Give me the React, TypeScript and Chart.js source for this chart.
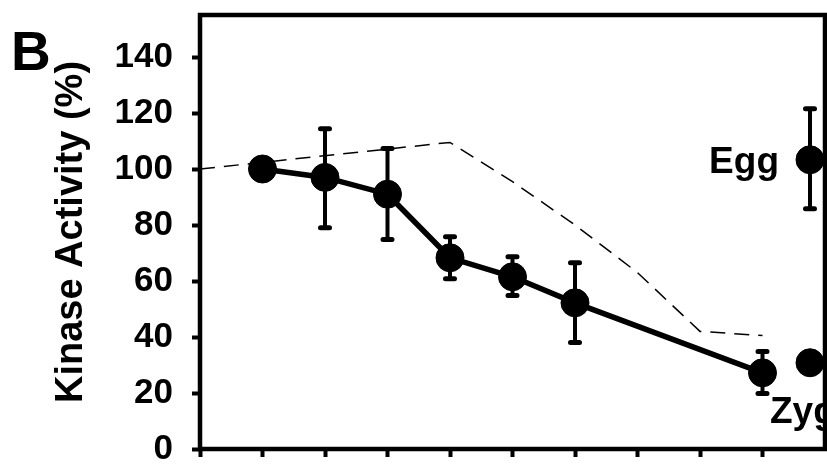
import React, { useEffect, useRef } from "react";
import { Chart, registerables } from "chart.js";

Chart.register(...registerables);

// Data
const mainX = [1, 2, 3, 4, 5, 6, 9];
const mainY = [100, 97, 91, 68.3, 61.5, 52.2, 27.2];
const mainUpper = [null, 114.4, 107.3, 75.8, 68.7, 66.5, 34.8];
const mainLower = [null, 79, 74.8, 60.8, 54.8, 38, 19.8];

const dashX = [0, 4, 5, 6, 7, 8, 9];
const dashY = [100, 109.5, 95.5, 80, 63, 42, 40.5];

const eggX = [9.76];
const eggY = [103.3];
const eggUpper = [121.5];
const eggLower = [85.8];

const zygX = [9.76];
const zygY = [30.8];

const yTicks = [0, 20, 40, 60, 80, 100, 120, 140];
const xTicks = [0, 1, 2, 3, 4, 5, 6, 7, 8, 9];

const panelLabel = "B";
const yTitle = "Kinase Activity (%)";
const eggLabel = "Egg";
const zygLabel = "Zyg";

const FONT = "'Liberation Sans', Arial, Helvetica, sans-serif";

const pts = (xs: number[], ys: number[]) => xs.map((x, i) => ({ x, y: ys[i] }));

const overlayPlugin = {
  id: "overlay",
  beforeDatasetsDraw(chart: any) {
    const ctx = chart.ctx;
    const xs = chart.scales.x;
    const ys = chart.scales.y;
    const bars = [
      { xv: mainX, up: mainUpper, lo: mainLower },
      { xv: eggX, up: eggUpper, lo: eggLower },
    ];
    ctx.save();
    const ca = chart.chartArea;
    ctx.beginPath();
    ctx.rect(ca.left, ca.top, ca.right - ca.left, ca.bottom - ca.top);
    ctx.clip();
    ctx.strokeStyle = "#000";
    bars.forEach((b) => {
      b.xv.forEach((xv, i) => {
        const u = b.up[i];
        const l = b.lo[i];
        if (u == null || l == null) return;
        const px = xs.getPixelForValue(xv);
        const pu = ys.getPixelForValue(u);
        const pl = ys.getPixelForValue(l);
        ctx.lineWidth = 4;
        ctx.lineCap = "butt";
        ctx.beginPath();
        ctx.moveTo(px, pu);
        ctx.lineTo(px, pl);
        ctx.stroke();
        ctx.lineWidth = 5;
        ctx.lineCap = "round";
        ctx.beginPath();
        ctx.moveTo(px - 4.5, pu);
        ctx.lineTo(px + 4.5, pu);
        ctx.moveTo(px - 4.5, pl);
        ctx.lineTo(px + 4.5, pl);
        ctx.stroke();
      });
    });
    ctx.restore();
  },
  afterDraw(chart: any) {
    const ctx = chart.ctx;
    const ca = chart.chartArea;
    const xs = chart.scales.x;
    const ys = chart.scales.y;
    ctx.save();
    // frame
    ctx.strokeStyle = "#000";
    ctx.lineWidth = 4.5;
    ctx.lineCap = "square";
    ctx.strokeRect(ca.left, ca.top, ca.right - ca.left, ca.bottom - ca.top);

    ctx.fillStyle = "#000";
    // panel letter
    ctx.font = `bold 55px ${FONT}`;
    ctx.textAlign = "left";
    ctx.textBaseline = "alphabetic";
    ctx.fillText(panelLabel, 11, 70);

    // y title
    ctx.save();
    ctx.translate(82, (ca.top + ca.bottom) / 2);
    ctx.rotate(-Math.PI / 2);
    ctx.font = `bold 38px ${FONT}`;
    ctx.textAlign = "center";
    ctx.textBaseline = "alphabetic";
    ctx.fillText(yTitle, 0, 0);
    ctx.restore();

    // Egg label
    ctx.font = `bold 37px ${FONT}`;
    ctx.textAlign = "right";
    ctx.textBaseline = "alphabetic";
    ctx.fillText(eggLabel, xs.getPixelForValue(eggX[0]) - 31, ys.getPixelForValue(eggY[0]) + 13);

    // Zyg label (clipped at frame)
    ctx.save();
    ctx.beginPath();
    ctx.rect(ca.left, ca.top, ca.right - ca.left - 2, ca.bottom - ca.top);
    ctx.clip();
    ctx.textAlign = "left";
    ctx.fillText(zygLabel, xs.getPixelForValue(zygX[0]) - 40, ys.getPixelForValue(zygY[0]) + 60);
    ctx.restore();

    ctx.restore();
  },
};

export default function App() {
  const ref = useRef<HTMLCanvasElement | null>(null);
  useEffect(() => {
    if (!ref.current) return;
    const chart = new Chart(ref.current, {
      type: "line",
      data: {
        datasets: [
          {
            data: pts(dashX, dashY),
            borderColor: "#000",
            borderWidth: 1.5,
            borderDash: [15, 9],
            pointRadius: 0,
            fill: false,
          },
          {
            data: pts(mainX, mainY),
            borderColor: "#000",
            borderWidth: 5.5,
            pointRadius: 14,
            pointBackgroundColor: "#000",
            pointBorderColor: "#000",
            pointBorderWidth: 1,
            fill: false,
          },
          {
            data: pts(eggX, eggY),
            showLine: false,
            pointRadius: 14,
            pointBackgroundColor: "#000",
            pointBorderColor: "#000",
            clip: 0,
          },
          {
            data: pts(zygX, zygY),
            showLine: false,
            pointRadius: 14,
            pointBackgroundColor: "#000",
            pointBorderColor: "#000",
            clip: 0,
          },
        ],
      } as any,
      options: {
        responsive: false,
        animation: false,
        events: [],
        layout: { autoPadding: false, padding: { top: 15, right: 2, left: 0, bottom: 0 } },
        plugins: { legend: { display: false }, tooltip: { enabled: false } },
        scales: {
          x: {
            type: "linear",
            min: 0,
            max: 10,
            afterBuildTicks: (s: any) => {
              s.ticks = xTicks.map((v) => ({ value: v }));
            },
            afterFit: (s: any) => {
              s.height = 23;
              s.paddingLeft = 0;
              s.paddingRight = 0;
            },
            ticks: { display: false },
            grid: {
              drawOnChartArea: false,
              drawTicks: true,
              tickLength: 8,
              tickWidth: 4,
              tickColor: "#000",
            },
            border: { display: false },
          },
          y: {
            type: "linear",
            min: 0,
            max: 155,
            afterBuildTicks: (s: any) => {
              s.ticks = yTicks.map((v) => ({ value: v }));
            },
            afterFit: (s: any) => {
              s.width = 200;
              s.paddingTop = 0;
              s.paddingBottom = 0;
            },
            ticks: {
              color: "#000",
              padding: 19,
              font: { family: FONT, size: 35, weight: "bold" },
            },
            grid: {
              drawOnChartArea: false,
              drawTicks: true,
              tickLength: 8,
              tickWidth: 4,
              tickColor: "#000",
            },
            border: { display: false },
          },
        },
      } as any,
      plugins: [overlayPlugin],
    });
    return () => chart.destroy();
  }, []);
  return (
    <div style={{ position: "absolute", left: 0, top: 0, width: 827, height: 472, background: "#fff" }}>
      <canvas ref={ref} width={827} height={472} />
    </div>
  );
}
